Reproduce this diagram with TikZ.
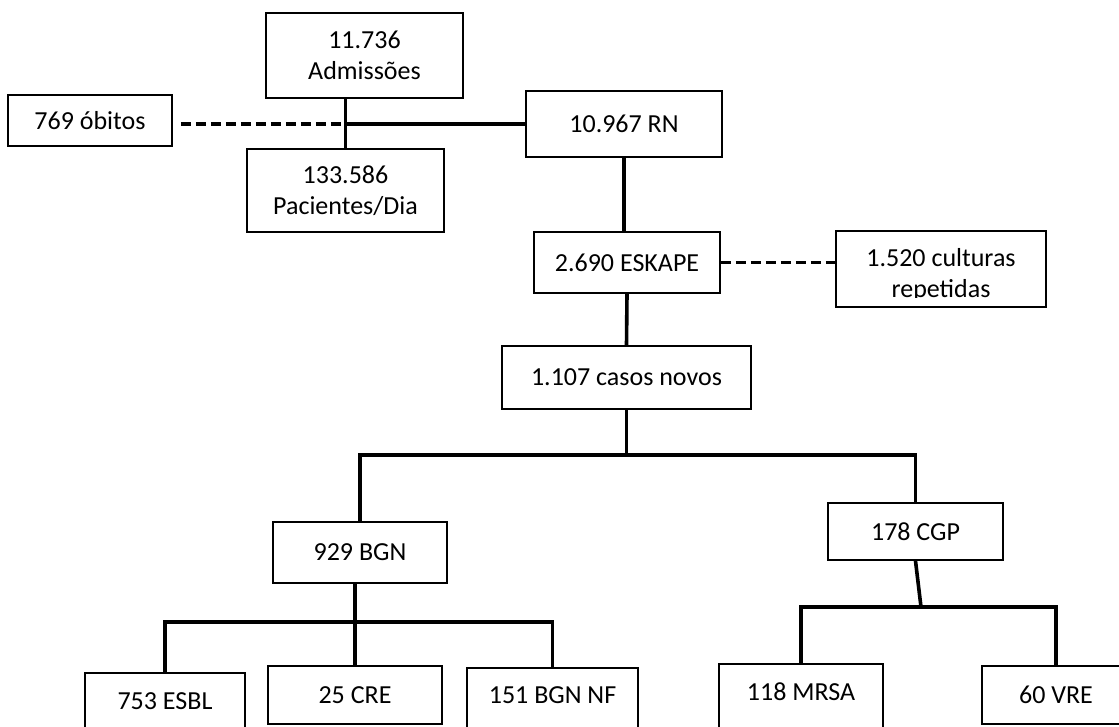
\documentclass[tikz,border=0pt]{standalone}
\usepackage{fontspec}
\setmainfont{Carlito}
\begin{document}
\begin{tikzpicture}[x=1pt,y=-1pt]
\tikzstyle{every node}+=[inner sep=0pt, font=\fontsize{26}{31}\selectfont]
\tikzstyle{box}=[draw=black, line width=1.8pt, align=center]
\tikzstyle{openbox}=[draw=black, line width=1.8pt, anchor=base]
\tikzstyle{link}=[black, line width=3.6pt]
\tikzstyle{dashlink}=[black, line width=3.6pt, dash pattern=on 10pt off 5pt]
\useasboundingbox (0,0) rectangle (1119,726);
\node [box, minimum width=197pt, minimum height=85pt] (adm) at (364.5,55.5) {11.736\\Admissões};
\node [box, minimum width=164pt, minimum height=51pt] (obitos) at (90,120.5) {769 óbitos};
\node [box, minimum width=197pt, minimum height=83pt, text depth=0pt] (pac) at (345.5,190.5) {133.586\\Pacientes/Dia};
\node [box, minimum width=196pt, minimum height=66pt] (rn) at (624,124) {10.967 RN};
\node [box, minimum width=186pt, minimum height=61pt] (eskape) at (627,262.5) {2.690 ESKAPE};
\node [box, minimum width=210pt, minimum height=76pt] (cult) at (941,269) {};
\begin{scope}
\clip (cult.north west) rectangle (1046,297);
\node [anchor=base, align=center] (culttxt) at (941,297) {1.520 culturas\\repetidas};
\end{scope}
\node [box, minimum width=249pt, minimum height=63pt] (casos) at (626.5,377.5) {1.107 casos novos};
\node [box, minimum width=174pt, minimum height=61pt] (bgn) at (360,552.5) {929 BGN};
\node [box, minimum width=175pt, minimum height=57pt] (cgp) at (915.5,531.5) {178 CGP};
\node [openbox, minimum width=160pt, text height=36pt, text depth=30pt] (esbl) at (165,709) {753 ESBL};
\node [box, minimum width=174pt, minimum height=58pt] (cre) at (355,695) {25 CRE};
\node [openbox, minimum width=171pt, text height=35pt, text depth=36pt] (nf) at (552.5,703) {151 BGN NF};
\node [openbox, minimum width=164pt, text height=36pt, text depth=36pt] (mrsa) at (801,700) {118 MRSA};
\node [box, minimum width=148pt, minimum height=58pt] (vre) at (1056,695) {60 VRE};
\coordinate (jn) at (345.5,124);
\draw [link] (pac.north) -- (pac.north |- adm.south);
\draw [dashlink, shorten <=8pt] (obitos.east |- jn) -- (jn);
\draw [link] (jn) -- (rn.west);
\draw [link] (rn.south) -- (rn.south |- eskape.north);
\draw [dashlink] (eskape.east) -- (eskape.east -| cult.west);
\draw [link] (eskape.south) -- (casos.north);
\coordinate (split1) at (626.5,455);
\draw [link] (casos.south) -- (split1);
\draw [link] (bgn.north) |- (split1) -| (cgp.north);
\coordinate (split2) at (355,622);
\draw [link] (cre.north |- bgn.south) -- (cre.north);
\draw [link] (esbl.north) |- (split2) -| (nf.north);
\coordinate (split3) at (921,607);
\draw [link] (cgp.south) -- (split3);
\draw [link] (mrsa.north) |- (split3) -| (vre.north);
\end{tikzpicture}
\end{document}
